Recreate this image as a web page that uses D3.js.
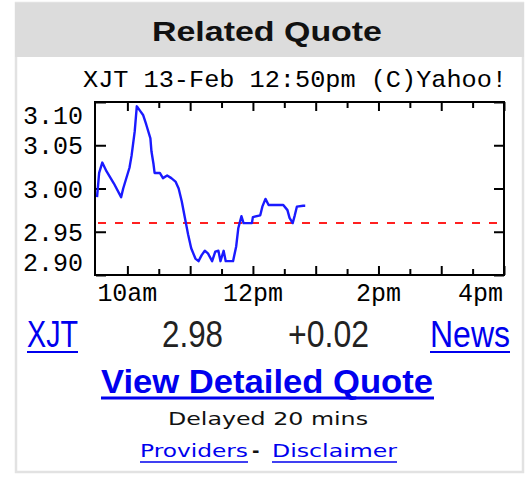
<!DOCTYPE html>
<html>
<head>
<meta charset="utf-8">
<script src="https://d3js.org/d3.v7.min.js"></script>
<style>
  html, body { margin: 0; padding: 0; background: #fff; }
  svg { display: block; }
</style>
</head>
<body>
<svg id="quote" width="526" height="492"></svg>
<script>
// intraday trade times (24h) and prices
var times = ["9:31","9:33","9:36","9:40","9:47","9:54","9:56","10:02","10:04","10:07",
  "10:09","10:12","10:15","10:18","10:22","10:23","10:25","10:26","10:31","10:34",
  "10:38","10:42","10:46","10:49","10:52","10:55","10:58","11:01","11:05","11:08",
  "11:11","11:14","11:17","11:21","11:24","11:27","11:29","11:32","11:34","11:41",
  "11:44","11:46","11:49","11:51","11:59","12:00","12:07","12:09","12:12","12:15",
  "12:29","12:33","12:35","12:38","12:40","12:42","12:48","12:50"];
var prices = [2.99,3.018,3.03,3.02,3.006,2.99,3.00,3.024,3.038,3.066,
  3.095,3.09,3.085,3.074,3.058,3.043,3.028,3.018,3.018,3.012,
  3.015,3.012,3.008,3.00,2.985,2.966,2.947,2.931,2.919,2.916,
  2.923,2.928,2.925,2.916,2.927,2.928,2.916,2.928,2.916,2.916,
  2.933,2.954,2.968,2.96,2.96,2.967,2.969,2.979,2.988,2.981,
  2.981,2.975,2.966,2.96,2.969,2.979,2.98,2.98];
var prevClose = 2.96;
var yTicks = [2.90, 2.95, 3.00, 3.05, 3.10];
var yTickLabels = ["2.90", "2.95", "3.00", "3.05", "3.10"];
var xMajorHours = [10, 11, 12, 13, 14, 15, 16];
var xMinorHours = [10.5, 11.5, 12.5, 13.5, 14.5, 15.5];
var xLabelHours = [10, 12, 14, 16];
var xTickLabels = ["10am", "12pm", "2pm", "4pm"];

function toHours(s) {
    var p = s.split(":");
    return +p[0] + (+p[1]) / 60;
}

var svg = d3.select("#quote");
var mono = "'Liberation Mono', 'DejaVu Sans Mono', monospace";
var sans = "'Liberation Sans', Arial, sans-serif";

// outer box + header
svg.append("rect").attr("x", 16).attr("y", 3).attr("width", 507).attr("height", 469)
    .attr("fill", "#fff").attr("stroke", "#e2e2e2").attr("stroke-width", 2.5);
svg.append("rect").attr("x", 15).attr("y", 3).attr("width", 509).attr("height", 54)
    .attr("fill", "#dcdcdc");
svg.append("text").attr("x", 267).attr("y", 41).attr("text-anchor", "middle")
    .attr("font-family", sans).attr("font-weight", "bold").attr("font-size", 28)
    .attr("textLength", 230).attr("lengthAdjust", "spacingAndGlyphs")
    .attr("fill", "#111").text("Related Quote");

// chart title
svg.append("text").attr("x", 83).attr("y", 87)
    .attr("font-family", mono).attr("font-size", 24)
    .attr("textLength", 424).attr("lengthAdjust", "spacingAndGlyphs")
    .attr("fill", "#000").text("XJT 13-Feb 12:50pm (C)Yahoo!");

var pL = 96, pR = 504, pT = 102, pB = 275;
var x = d3.scaleLinear().domain([9.5, 16]).range([pL, pR]);
var y = d3.scaleLinear().domain([2.90, 3.10]).range([pB, pT]);

// ticks (pointing inward) on all four sides
function tickStyle(g) {
    g.select(".domain").remove();
    g.selectAll("text").remove();
    g.selectAll("line").attr("stroke", "#000").attr("stroke-width", 2);
}
svg.append("g").attr("transform", "translate(0," + pB + ")")
    .call(d3.axisBottom(x).tickValues(xMajorHours).tickSize(-9)).call(tickStyle);
svg.append("g").attr("transform", "translate(0," + pB + ")")
    .call(d3.axisBottom(x).tickValues(xMinorHours).tickSize(-6)).call(tickStyle);
svg.append("g").attr("transform", "translate(0," + pT + ")")
    .call(d3.axisTop(x).tickValues(xMajorHours).tickSize(-9)).call(tickStyle);
svg.append("g").attr("transform", "translate(0," + pT + ")")
    .call(d3.axisTop(x).tickValues(xMinorHours).tickSize(-6)).call(tickStyle);
svg.append("g").attr("transform", "translate(" + pL + ",0)")
    .call(d3.axisLeft(y).tickValues(yTicks).tickSize(-10)).call(tickStyle);
svg.append("g").attr("transform", "translate(" + pR + ",0)")
    .call(d3.axisRight(y).tickValues(yTicks).tickSize(-10)).call(tickStyle);

// previous close
svg.append("line").attr("x1", pL + 2).attr("x2", pR - 1)
    .attr("y1", y(prevClose)).attr("y2", y(prevClose))
    .attr("stroke", "#ff2020").attr("stroke-width", 2).attr("stroke-dasharray", "8,9");

// price line
var line = d3.line()
    .x(function(d, i) { return x(toHours(times[i])); })
    .y(function(d) { return y(d); });
svg.append("path").datum(prices).attr("d", line)
    .attr("fill", "none").attr("stroke", "#1a1aff").attr("stroke-width", 2.4)
    .attr("stroke-linejoin", "round");

// frame
svg.append("rect").attr("x", pL - 1).attr("y", pT).attr("width", pR - pL + 1)
    .attr("height", pB - pT).attr("fill", "none").attr("stroke", "#000").attr("stroke-width", 2);

// y labels, kept inside the frame
svg.selectAll(".ylab").data(yTicks).enter().append("text")
    .attr("x", 83).attr("text-anchor", "end")
    .attr("y", function(d) { return Math.max(pT + 22, Math.min(pB - 4, y(d) + 9)); })
    .attr("font-family", mono).attr("font-size", 25)
    .attr("textLength", 60).attr("lengthAdjust", "spacingAndGlyphs")
    .text(function(d, i) { return yTickLabels[i]; });

// x labels
svg.selectAll(".xlab").data(xLabelHours).enter().append("text")
    .attr("x", function(d, i) {
        var w = xTickLabels[i].length * 15;
        return Math.min(503 - w / 2, x(d));
    })
    .attr("y", 301).attr("text-anchor", "middle")
    .attr("font-family", mono).attr("font-size", 25)
    .attr("textLength", function(d, i) { return xTickLabels[i].length * 15; })
    .attr("lengthAdjust", "spacingAndGlyphs")
    .text(function(d, i) { return xTickLabels[i]; });

// quote row
function txt(s, xx, yy, opts) {
    var t = svg.append("text").attr("x", xx).attr("y", yy).text(s)
        .attr("font-family", opts.font || sans).attr("font-size", opts.size)
        .attr("fill", opts.fill || "#000").attr("text-anchor", opts.anchor || "start");
    if (opts.weight) t.attr("font-weight", opts.weight);
    if (opts.len) t.attr("textLength", opts.len).attr("lengthAdjust", "spacingAndGlyphs");
    return t;
}
function underline(x1, x2, yy, w, col) {
    svg.append("line").attr("x1", x1).attr("x2", x2).attr("y1", yy).attr("y2", yy)
        .attr("stroke", col).attr("stroke-width", w);
}
var blue = "#0000ee";
txt("XJT", 27, 347, {size: 36, fill: blue, len: 51});
underline(27, 78, 352, 2, blue);
txt(String(prices[prices.length - 1].toFixed(2)), 162, 347, {size: 36, fill: "#222", len: 61});
txt("+" + (prices[prices.length - 1] - prevClose).toFixed(2), 288, 347, {size: 36, fill: "#222", len: 81});
txt("News", 430, 347, {size: 36, fill: blue, len: 80});
underline(430, 510, 352, 2, blue);

txt("View Detailed Quote", 101, 393, {size: 33, weight: "bold", fill: blue, len: 332});
underline(101, 434, 398, 3, blue);

txt("Delayed 20 mins", 168, 425, {font: "'DejaVu Sans', sans-serif", size: 18, fill: "#111", len: 200});

txt("Providers", 140, 457, {font: "'DejaVu Sans', sans-serif", size: 18, fill: blue, len: 108});
underline(140, 248, 462, 1.5, blue);
txt("-", 252, 457, {font: "'DejaVu Sans', sans-serif", size: 18, weight: "bold", fill: "#111"});
txt("Disclaimer", 272, 457, {font: "'DejaVu Sans', sans-serif", size: 18, fill: blue, len: 125});
underline(272, 397, 462, 1.5, blue);
</script>
</body>
</html>
